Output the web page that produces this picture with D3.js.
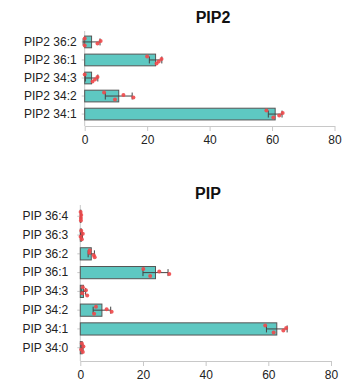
<!DOCTYPE html>
<html><head><meta charset="utf-8">
<script src="https://cdn.jsdelivr.net/npm/d3@7/dist/d3.min.js"></script>
<style>body{margin:0;background:#fff;}svg{display:block;font-family:"Liberation Sans",Arial,sans-serif;}</style>
</head><body>
<script>
const xTicks = [0, 20, 40, 60, 80];

const pip2Categories = ["PIP2 36:2", "PIP2 36:1", "PIP2 34:3", "PIP2 34:2", "PIP2 34:1"];
const pip2Means = [2.2, 22.7, 2.2, 10.9, 61.0];
const pip2Err = [2.7, 2.0, 2.0, 4.3, 2.2];
const pip2Points = [
  [0, 0, 5.1, 4.1],
  [20.0, 23.0, 24.6, 23.7],
  [0, 2.5, 4.1, 3.3],
  [6.2, 9.7, 12.4, 15.6],
  [58.2, 60.4, 63.4, 62.3]
];

const pipCategories = ["PIP 36:4", "PIP 36:3", "PIP 36:2", "PIP 36:1", "PIP 34:3", "PIP 34:2", "PIP 34:1", "PIP 34:0"];
const pipMeans = [0.2, 0.4, 3.5, 24.0, 1.0, 6.9, 62.7, 0.6];
const pipErr = [0.1, 0.3, 1.0, 4.0, 0.7, 2.8, 3.3, 0.3];
const pipPoints = [
  [0.1, 0.2, 0.3, 0.2],
  [0.3, 0.5, 0.8, 0.1],
  [3.0, 4.6, 2.9, 4.3],
  [20.1, 22.3, 25.2, 28.4],
  [0.8, 2.2, 1.8, 0.6],
  [5.0, 4.4, 8.4, 10.0],
  [59.0, 61.7, 65.7, 64.8],
  [0.5, 0.8, 1.0, 0.3]
];

const svg = d3.select("body").append("svg").attr("width", 349).attr("height", 387);

function panel(cfg) {
  const {title, cats, means, errs, pts, x0, x1, yTop, yBot, axisY, axisTop, titleX, titleY, labelGap} = cfg;
  const g = svg.append("g");
  const x = d3.scaleLinear().domain([0, 80]).range([x0, x1]);
  const y = d3.scaleBand().domain(cats).range([yTop, yBot]).paddingInner(0.35).paddingOuter(0.17);

  g.append("text").attr("x", titleX).attr("y", titleY).attr("text-anchor", "middle")
    .attr("dominant-baseline", "central").attr("font-weight", "bold").attr("font-size", 16).attr("fill", "#111").text(title);

  const xa = g.append("g").attr("transform", `translate(0,${axisY})`)
    .call(d3.axisBottom(x).tickValues(xTicks).tickSize(5).tickPadding(4).tickSizeOuter(0));
  xa.select(".domain").attr("stroke", "#c8c8c8");
  xa.selectAll(".tick line").attr("stroke", "#c8c8c8");
  xa.selectAll(".tick text").attr("font-size", 12).attr("fill", "#222").attr("font-family", "Liberation Sans, Arial, sans-serif");

  const ya = g.append("g").attr("transform", `translate(${x0},0)`)
    .call(d3.axisLeft(y).tickSize(3).tickPadding(labelGap).tickSizeOuter(0));
  ya.select(".domain").attr("d", `M0,${axisTop}V${axisY}`).attr("stroke", "#c8c8c8");
  ya.selectAll(".tick line").attr("stroke", "#c8c8c8");
  ya.selectAll(".tick text").attr("font-size", 12).attr("fill", "#222").attr("font-family", "Liberation Sans, Arial, sans-serif");

  const bh = y.bandwidth();
  const rows = cats.map((c, i) => ({c, m: means[i], e: errs[i], p: pts[i]}));

  g.selectAll("rect.bar").data(rows).join("rect").attr("class", "bar")
    .attr("x", x(0)).attr("y", d => y(d.c)).attr("width", d => x(d.m) - x(0)).attr("height", bh)
    .attr("fill", "#5ec8c2").attr("stroke", "#555").attr("stroke-width", 1);

  const eb = g.selectAll("g.eb").data(rows).join("g").attr("class", "eb");
  eb.append("line").attr("x1", d => x(d.m - d.e)).attr("x2", d => x(d.m + d.e))
    .attr("y1", d => y(d.c) + bh / 2).attr("y2", d => y(d.c) + bh / 2).attr("stroke", "#444");
  eb.append("line").attr("x1", d => x(d.m - d.e)).attr("x2", d => x(d.m - d.e))
    .attr("y1", d => y(d.c) + bh / 2 - 3.5).attr("y2", d => y(d.c) + bh / 2 + 3.5).attr("stroke", "#444");
  eb.append("line").attr("x1", d => x(d.m + d.e)).attr("x2", d => x(d.m + d.e))
    .attr("y1", d => y(d.c) + bh / 2 - 3.5).attr("y2", d => y(d.c) + bh / 2 + 3.5).attr("stroke", "#444");

  const jit = [-3.5, 3.5, -1, 1.5];
  rows.forEach(r => {
    g.selectAll(null).data(r.p).join("circle")
      .attr("cx", v => x(v)).attr("cy", (v, k) => y(r.c) + bh / 2 + jit[k] * (r.m < 1.5 ? 1.2 : 1))
      .attr("r", 2).attr("fill", "#f0484a").attr("opacity", 0.9);
  });
}

panel({title: "PIP2", cats: pip2Categories, means: pip2Means, errs: pip2Err, pts: pip2Points,
  x0: 84.7, x1: 334.5, yTop: 33, yBot: 123, axisY: 126, axisTop: 31, titleX: 213, titleY: 17, labelGap: 5});
panel({title: "PIP", cats: pipCategories, means: pipMeans, errs: pipErr, pts: pipPoints,
  x0: 80.3, x1: 331, yTop: 207, yBot: 357, axisY: 361, axisTop: 205, titleX: 208, titleY: 193, labelGap: 9});
</script>
</body></html>
